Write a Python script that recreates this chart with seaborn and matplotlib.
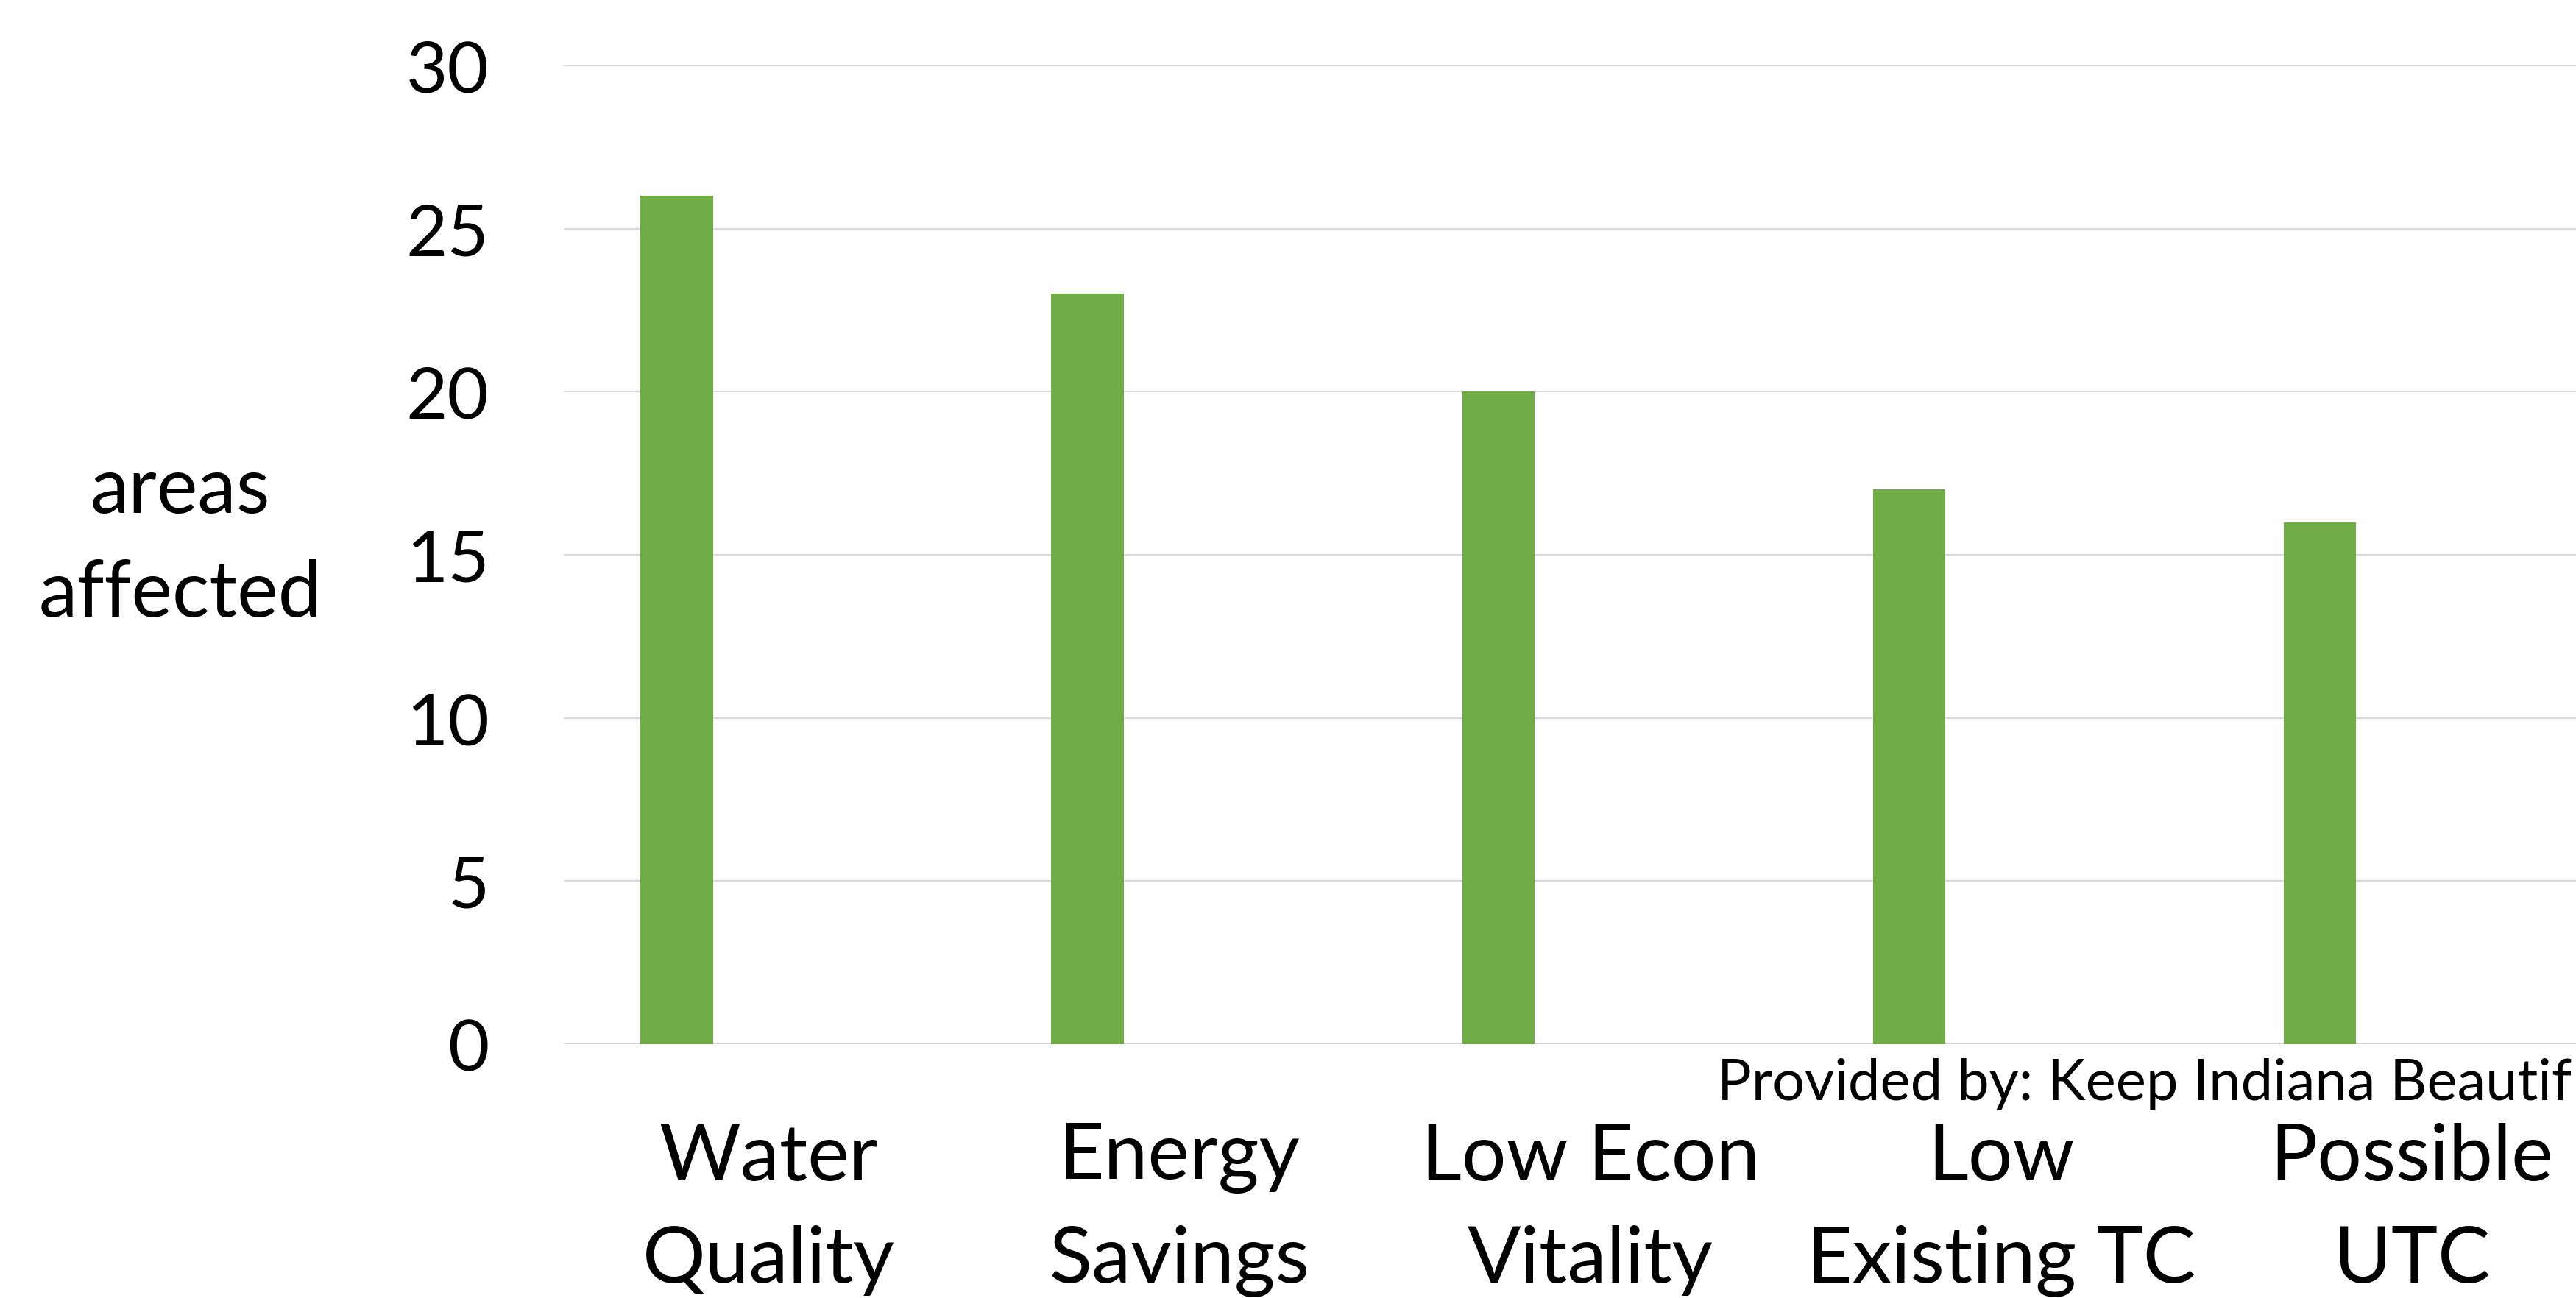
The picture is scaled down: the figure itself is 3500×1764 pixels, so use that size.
import matplotlib
matplotlib.use('Agg')
import matplotlib.pyplot as plt
import numpy as np
import pandas as pd
import seaborn as sns

# data
categories = ['Water\nQuality', 'Energy\nSavings', 'Low Econ\nVitality',
              'Low\nExisting TC', 'Possible\nUTC']
areas_affected = [26, 23, 20, 17, 16]
y_ticks = [0, 5, 10, 15, 20, 25, 30]

sns.set_theme(style='white')
plt.rcParams['font.family'] = ['Lato', 'DejaVu Sans']

df = pd.DataFrame({'category': categories, 'areas': areas_affected})

W, H = 3500, 1765
fig = plt.figure(figsize=(W / 100, H / 100), dpi=100)
ax = fig.add_axes([766 / W, 1 - 1420 / H, 1 - 766 / W, (1420 - 90) / H])

sns.barplot(data=df, x='category', y='areas', color='#70AD47', saturation=1,
            width=0.176, linewidth=0, ax=ax)

# labels sit to the right of the bars (empty second series in the original)
pos = np.arange(len(categories))
ax.set_xticks(pos + 0.224, categories)
ax.set_xlim(-0.275, 4.624)
ax.set_ylim(0, 30)
ax.set_yticks(y_ticks)

ax.grid(axis='y', color='#D9D9D9', linewidth=1.6)
ax.set_axisbelow(True)
for s in ax.spines.values():
    s.set_visible(False)

ax.tick_params(axis='x', length=0, pad=76, labelsize=77, colors='black')
ax.tick_params(axis='y', length=0, pad=73, labelsize=70, colors='black')
for t in ax.get_xticklabels():
    t.set_linespacing(1.56)

ax.set_xlabel('')
ax.set_ylabel('areas\naffected', rotation=0, fontsize=76, color='black',
              linespacing=1.58, ha='center', va='center')
ax.yaxis.set_label_coords(-0.1906, 0.513)

# source note, truncated at the right edge as in the original image
fig.text(3494 / W, 1 - 1495 / H, 'Provided by: Keep Indiana Beautif',
         fontsize=56, color='black', ha='right', va='baseline')

fig.savefig('out.png', dpi=100, facecolor='white')
